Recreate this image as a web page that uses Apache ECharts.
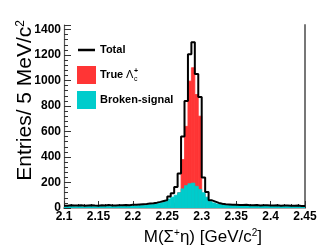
<!DOCTYPE html>
<html>
<head>
<meta charset="utf-8">
<script src="https://cdn.jsdelivr.net/npm/echarts@6/dist/echarts.min.js"></script>
<style>html,body{margin:0;padding:0;background:#fff}#c{width:322px;height:251px}</style>
</head>
<body>
<div id="c"></div>
<script>
// Histogram binning (GeV/c^2)
const binLow = 2.1;
const binWidth = 0.005;
const xTicks = [2.1, 2.15, 2.2, 2.25, 2.3, 2.35, 2.4, 2.45];
const yTicks = [0, 200, 400, 600, 800, 1000, 1200, 1400];

// Total (black outline)
const totalVals = [
  18,22,20,19,21,17,20,22,19,18,21,20,23,19,20,22,21,24,22,25,26,28,30,32,
  35,38,42,48,55,62,90,115,165,270,560,840,1205,1300,1050,870,240,125,60,50,40,34,30,28,26,25,
  24,23,25,22,21,23,20,22,21,19,20,21,18,20,19,18,17,19,16,15
];
// True Lambda_c+ (red)
const trueVals = [
  0,0,0,0,0,0,0,0,0,0,0,0,0,0,0,0,0,0,0,0,0,0,0,0,
  0,0,0,0,0,0,5,15,40,120,380,640,995,1100,890,720,110,30,8,3,0,0,0,0,0,0,
  0,0,0,0,0,0,0,0,0,0,0,0,0,0,0,0,0,0,0,0
];
// Broken-signal (cyan)
const brokenVals = [
  10,12,11,10,12,9,11,12,10,10,12,11,13,10,11,12,12,14,13,15,16,18,20,22,
  25,28,32,36,42,50,70,85,100,120,150,175,190,195,170,145,120,85,50,40,32,27,24,22,20,19,
  18,17,18,16,15,17,14,16,15,13,14,15,12,14,13,12,11,13,10,9
];

const edge = i => +(binLow + i * binWidth).toFixed(4);
const histData = vals => vals.map((v, i) => [edge(i), v]);
const stepData = vals => {
  const d = vals.map((v, i) => [edge(i), v]);
  d.push([edge(vals.length), vals[vals.length - 1]]);
  return d;
};

function rectRenderer(color) {
  return function (params, api) {
    const x0 = api.value(0), v = api.value(1);
    if (!v) return null;
    const p0 = api.coord([x0, v]);
    const p1 = api.coord([x0 + binWidth, 0]);
    return {
      type: 'rect',
      shape: { x: p0[0], y: p0[1], width: p1[0] - p0[0], height: p1[1] - p0[1] },
      style: { fill: color, stroke: color, lineWidth: 0.8 }
    };
  };
}

const chart = echarts.init(document.getElementById('c'), null, { renderer: 'canvas' });
const FONT = 'Liberation Sans, Arial, Helvetica, sans-serif';

chart.setOption({
  animation: false,
  backgroundColor: '#ffffff',
  grid: { left: 64, right: 17, top: 25, bottom: 43 },
  xAxis: [{
    type: 'value', min: xTicks[0], max: xTicks[xTicks.length - 1], interval: 0.05,
    axisLine: { show: true, lineStyle: { color: '#444', width: 1.2 } },
    axisTick: { show: true, inside: true, length: 7, lineStyle: { color: '#333' } },
    minorTick: { show: true, splitNumber: 5, length: 4, lineStyle: { color: '#333' } },
    splitLine: { show: false },
    axisLabel: { margin: 3, fontFamily: FONT, fontWeight: 'bold', fontSize: 12, color: '#000',
      formatter: v => String(+v.toFixed(2)), showMinLabel: true, showMaxLabel: true }
  }, {
    type: 'value', position: 'top', min: xTicks[0], max: xTicks[xTicks.length - 1],
    axisLine: { show: true, lineStyle: { color: '#aaa', width: 2 } },
    axisTick: { show: false }, axisLabel: { show: false }, splitLine: { show: false }
  }],
  yAxis: [{
    type: 'value', min: 0, max: 1435, interval: 200,
    axisLine: { show: true, lineStyle: { color: '#555', width: 1.2 } },
    axisTick: { show: true, inside: true, length: 7, lineStyle: { color: '#333' } },
    minorTick: { show: true, splitNumber: 5, length: 4, lineStyle: { color: '#333' } },
    splitLine: { show: false },
    axisLabel: { margin: 3, fontFamily: FONT, fontWeight: 'bold', fontSize: 12, color: '#000',
      showMaxLabel: false,
      formatter: v => (yTicks.indexOf(v) >= 0 ? String(v) : '') }
  }, {
    type: 'value', position: 'right', min: 0, max: 1435,
    axisLine: { show: true, lineStyle: { color: '#777', width: 2 } },
    axisTick: { show: false }, axisLabel: { show: false }, splitLine: { show: false }
  }],
  series: [{
    name: 'True', type: 'custom', renderItem: rectRenderer('#ff3535'),
    encode: { x: 0, y: 1 }, data: histData(trueVals), clip: true
  }, {
    name: 'Broken-signal', type: 'custom', renderItem: rectRenderer('#00cccc'),
    encode: { x: 0, y: 1 }, data: histData(brokenVals), clip: true
  }, {
    name: 'Total', type: 'line', step: 'end', symbol: 'none',
    data: stepData(totalVals),
    lineStyle: { color: '#000', width: 2 }, z: 5
  }],
  graphic: [
    // legend
    { type: 'line', shape: { x1: 78, y1: 50, x2: 95, y2: 50 }, style: { stroke: '#000', lineWidth: 2.5 } },
    { type: 'text', x: 100, y: 50, style: { text: 'Total', font: 'bold 11px ' + FONT, fill: '#000', textVerticalAlign: 'middle' } },
    { type: 'rect', shape: { x: 77, y: 66, width: 19, height: 18 }, style: { fill: '#ff3535' } },
    { type: 'text', x: 100, y: 75, style: { text: 'True', font: 'bold 11px ' + FONT, fill: '#000', textVerticalAlign: 'middle' } },
    { type: 'text', x: 126, y: 75, style: { text: 'Λ', font: '11px ' + FONT, fill: '#000', textVerticalAlign: 'middle' } },
    { type: 'text', x: 134, y: 79, style: { text: 'c', font: '7px ' + FONT, fill: '#000', textVerticalAlign: 'middle' } },
    { type: 'text', x: 134, y: 71, style: { text: '+', font: 'bold 7px ' + FONT, fill: '#000', textVerticalAlign: 'middle' } },
    { type: 'rect', shape: { x: 77, y: 91, width: 19, height: 18 }, style: { fill: '#00cccc' } },
    { type: 'text', x: 100, y: 100, style: { text: 'Broken-signal', font: 'bold 11px ' + FONT, fill: '#000', textVerticalAlign: 'middle' } },
    // axis titles
    { type: 'text', x: 262, y: 237, style: {
        text: '{n|M(Σ}{s|+}{n|η) [GeV/c}{s|2}{n|]}', textAlign: 'right', textVerticalAlign: 'middle',
        rich: { n: { fontFamily: FONT, fontSize: 17, color: '#000' },
                s: { fontFamily: FONT, fontSize: 10, color: '#000', padding: [0,0,8,0] } } } },
    { type: 'text', x: 25, y: 20, rotation: Math.PI / 2, style: {
        text: '{n|Entries/ 5 MeV/c}{s|2}', textAlign: 'right', textVerticalAlign: 'middle',
        rich: { n: { fontFamily: FONT, fontSize: 21, color: '#000' },
                s: { fontFamily: FONT, fontSize: 12, color: '#000', padding: [0,0,9,0] } } } }
  ]
});
</script>
</body>
</html>
